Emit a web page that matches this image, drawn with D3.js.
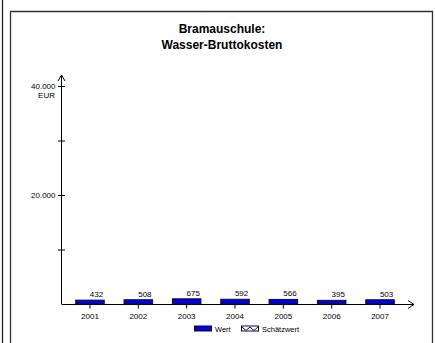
<!DOCTYPE html>
<html><head><meta charset="utf-8">
<script src="https://cdn.jsdelivr.net/npm/d3@7"></script>
<style>body{margin:0;background:#fff}svg{display:block}text{font-family:"Liberation Sans",Arial,sans-serif}</style>
</head><body>
<svg id="c" width="435" height="343"></svg>
<script>
const years = ["2001","2002","2003","2004","2005","2006","2007"];
const values = [432, 508, 675, 592, 566, 395, 503];
const yTicks = [0, 10000, 20000, 30000, 40000];
const yLabels = ["", "", "20.000", "", "40.000"];
const titleLines = ["Bramauschule:", "Wasser-Bruttokosten"];
const legendItems = ["Wert", "Schätzwert"];

const svg = d3.select("#c");
// frame lines
svg.append("line").attr("x1",2.5).attr("x2",2.5).attr("y1",0).attr("y2",343).attr("stroke","#222").attr("stroke-width",1.3);
svg.append("path").attr("d","M10.5,343V11.5H432.5V343").attr("fill","none").attr("stroke","#333").attr("stroke-width",1.3);

// title
svg.append("text").attr("x",222).attr("y",33).attr("text-anchor","middle")
  .selectAll("tspan").data(titleLines).join("tspan")
  .attr("x",222).attr("dy",(d,i)=>i?16:0)
  .attr("font-size",12).attr("font-weight","bold").text(d=>d);

const x = d3.scaleBand().domain(years).range([65.8, 404.2]).paddingInner(0.41).paddingOuter(0.205);
const y = d3.scaleLinear().domain([0, 40000]).range([304, 86]);
const x0 = 61.5;

// y axis line with arrow
svg.append("line").attr("x1",x0).attr("x2",x0).attr("y1",y(0)).attr("y2",75).attr("stroke","#000");
svg.append("path").attr("d",`M${x0-3.5},${81}L${x0},${75}L${x0+3.5},${81}`).attr("fill","none").attr("stroke","#000");
// x axis line with arrow
svg.append("line").attr("x1",x0).attr("x2",414).attr("y1",y(0)+0.5).attr("y2",y(0)+0.5).attr("stroke","#000");
svg.append("path").attr("d",`M${408},${300.5}L${414},${304.5}L${408},${308.5}`).attr("fill","none").attr("stroke","#000");

// y ticks
const yt = svg.append("g").attr("transform",`translate(${x0},0)`)
  .call(d3.axisLeft(y).tickValues(yTicks.slice(1)).tickSize(0).tickFormat((d,i)=>yLabels[i+1]));
yt.select(".domain").remove();
yt.selectAll(".tick line").attr("x1",-3.5).attr("x2",3.5).attr("stroke","#000");
yt.selectAll(".tick text").attr("x",-6).attr("font-size",8).attr("font-family","Liberation Sans, Arial").attr("fill","#000");
svg.append("text").attr("x",55).attr("y",97.5).attr("text-anchor","end").attr("font-size",8).text("EUR");

// x ticks
const xt = svg.append("g").attr("transform",`translate(0,${y(0)+0.5})`)
  .call(d3.axisBottom(x).tickSize(4).tickPadding(5));
xt.select(".domain").remove();
xt.selectAll(".tick line").attr("stroke","#000");
xt.selectAll(".tick text").attr("font-size",8).attr("font-family","Liberation Sans, Arial").attr("fill","#000");

// bars
svg.selectAll("rect.bar").data(values).join("rect").attr("class","bar")
  .attr("x",(d,i)=>x(years[i])).attr("width",x.bandwidth())
  .attr("y",d=>y(d)-1.5).attr("height",d=>y(0)-y(d)+1.5)
  .attr("fill","#0000ee").attr("stroke","#111").attr("stroke-width",1);
svg.selectAll("text.val").data(values).join("text").attr("class","val")
  .attr("x",(d,i)=>x(years[i])+x.bandwidth()-1).attr("y",d=>y(d)-4.5)
  .attr("text-anchor","end").attr("font-size",8).text(d=>d);

// legend
const lg = svg.append("g");
lg.append("rect").attr("x",194.5).attr("y",326).attr("width",17).attr("height",5).attr("fill","#0000ee").attr("stroke","#111");
lg.append("text").attr("x",215).attr("y",332).attr("font-size",7.5).text(legendItems[0]);
lg.append("rect").attr("x",241.5).attr("y",326).attr("width",17).attr("height",5).attr("fill","#fff").attr("stroke","#111");
lg.append("path").attr("d","M242,327L246,330.5L250,327L254,330.5L258,327").attr("fill","none").attr("stroke","#0000ee").attr("stroke-width",1);
lg.append("text").attr("x",262).attr("y",332).attr("font-size",7.5).text(legendItems[1]);
</script>
</body></html>
